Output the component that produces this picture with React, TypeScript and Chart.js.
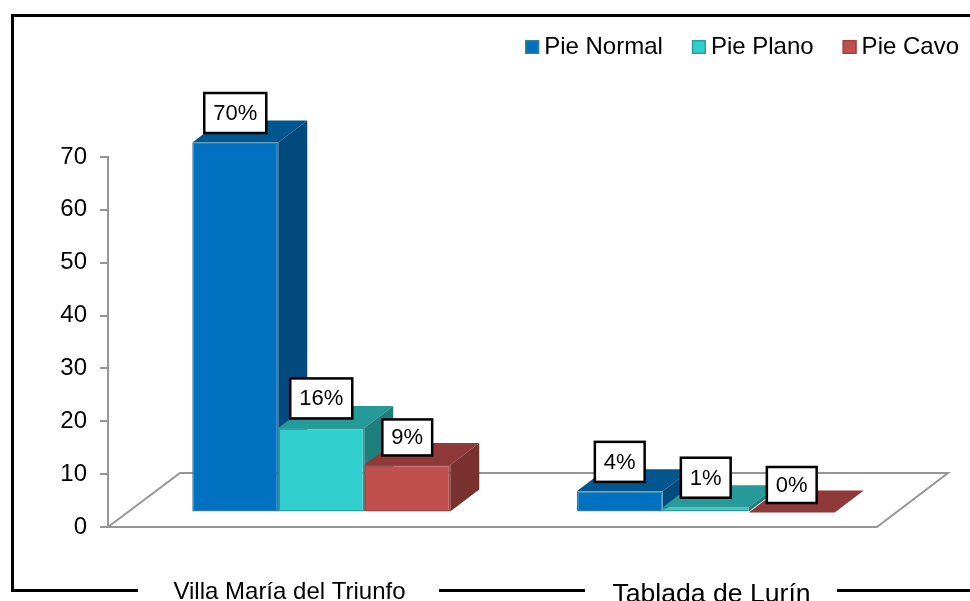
import React, { useEffect, useRef } from "react";
import { Chart, registerables } from "chart.js";

Chart.register(...registerables);

const categories = ["Villa María del Triunfo", "Tablada de Lurín"];
const pieNormal = [70, 4];
const piePlano = [16, 1];
const pieCavo = [9, 0];
const seriesNames = ["Pie Normal", "Pie Plano", "Pie Cavo"];

const FRONT = ["#0070C0", "#31CFCD", "#C0504D"];
const TOP = ["#02568F", "#259A98", "#8F3A38"];
const SIDE = ["#024A7D", "#1F7F7C", "#7A3230"];
const EDGE = ["#2F7F9A", "#2A9E9C", "#A8403E"];
const FONT = "'Liberation Sans', Arial, sans-serif";
const SHIFT = { x: 21, y: -14.5 };
const DEPTH = { x: 29, y: -22 };
const FLOOR = { x: 72, y: -54 };
const LABEL_H = [[40, 40], [40, 40], [36, 36]];
const CAT_STYLE = [
  { x: 289.5, y: 599, size: 24 },
  { x: 711.5, y: 602, size: 26.6 },
];
const FRAME = [[12, 138], [439, 585], [837, 970]];

const poly = (ctx: CanvasRenderingContext2D, pts: number[][], fill: string) => {
  ctx.beginPath();
  pts.forEach((p, i) => (i ? ctx.lineTo(p[0], p[1]) : ctx.moveTo(p[0], p[1])));
  ctx.closePath();
  ctx.fillStyle = fill;
  ctx.fill();
};

const scene = {
  id: "scene",
  beforeDatasetsDraw(chart: any) {
    const { ctx, chartArea: a } = chart;
    ctx.save();
    ctx.strokeStyle = "#969696";
    ctx.lineWidth = 2;
    ctx.beginPath();
    ctx.moveTo(a.left, a.bottom);
    ctx.lineTo(a.left + FLOOR.x, a.bottom + FLOOR.y);
    ctx.lineTo(a.right + FLOOR.x - 1, a.bottom + FLOOR.y);
    ctx.lineTo(a.right, a.bottom);
    ctx.closePath();
    ctx.stroke();
    chart.data.datasets.forEach((_: any, d: number) => {
      chart.getDatasetMeta(d).data.forEach((bar: any) => {
        const { x, y, base, width } = bar.getProps(["x", "y", "base", "width"], true);
        const l = x - width / 2 + SHIFT.x;
        const r = x + width / 2 + SHIFT.x;
        const t = y + SHIFT.y;
        const b = base + SHIFT.y;
        poly(ctx, [[l, t], [r, t], [r + DEPTH.x, t + DEPTH.y], [l + DEPTH.x, t + DEPTH.y]], TOP[d]);
        if (b - t > 0.5)
          poly(ctx, [[r, t], [r + DEPTH.x, t + DEPTH.y], [r + DEPTH.x, b + DEPTH.y], [r, b]], SIDE[d]);
      });
    });
    ctx.restore();
    ctx.save();
    ctx.translate(SHIFT.x, SHIFT.y);
  },
  afterDatasetsDraw(chart: any) {
    const { ctx } = chart;
    ctx.restore();
    ctx.save();
    ctx.font = `22px ${FONT}`;
    ctx.textAlign = "center";
    ctx.textBaseline = "middle";
    chart.data.datasets.forEach((ds: any, d: number) => {
      chart.getDatasetMeta(d).data.forEach((bar: any, i: number) => {
        const { x, y } = bar.getProps(["x", "y"], true);
        const h = LABEL_H[d][i];
        const cx = x + SHIFT.x;
        const cy = y + SHIFT.y - h / 2 - 9.5;
        const text = `${ds.data[i]}%`;
        const w = ctx.measureText(text).width + 18;
        ctx.fillStyle = "#fff";
        ctx.fillRect(cx - w / 2, cy - h / 2, w, h);
        ctx.strokeStyle = "#000";
        ctx.lineWidth = 2.5;
        ctx.strokeRect(cx - w / 2, cy - h / 2, w, h);
        ctx.fillStyle = "#000";
        ctx.fillText(text, cx, cy + 1);
      });
    });
    ctx.restore();
  },
  afterDraw(chart: any) {
    const { ctx } = chart;
    ctx.save();
    ctx.strokeStyle = "#000";
    ctx.lineWidth = 3;
    ctx.beginPath();
    ctx.moveTo(970, 15.5);
    ctx.lineTo(12.5, 15.5);
    ctx.lineTo(12.5, 592);
    FRAME.forEach((s) => {
      ctx.moveTo(s[0], 590.5);
      ctx.lineTo(s[1], 590.5);
    });
    ctx.stroke();
    ctx.fillStyle = "#000";
    ctx.textAlign = "center";
    ctx.textBaseline = "alphabetic";
    categories.forEach((c, i) => {
      ctx.font = `${CAT_STYLE[i].size}px ${FONT}`;
      ctx.fillText(c, CAT_STYLE[i].x, CAT_STYLE[i].y);
    });
    chart.legend.legendHitBoxes.forEach((h: any, i: number) => {
      const cy = h.top + h.height / 2;
      ctx.fillStyle = FRONT[i];
      ctx.fillRect(h.left, cy - 7, 14, 14);
      ctx.strokeStyle = EDGE[i];
      ctx.lineWidth = 1.5;
      ctx.strokeRect(h.left + 0.75, cy - 6.25, 12.5, 12.5);
    });
    ctx.restore();
  },
};

export default function App() {
  const ref = useRef<HTMLCanvasElement | null>(null);
  useEffect(() => {
    document.body.style.margin = "0";
    const chart = new Chart(ref.current as HTMLCanvasElement, {
      type: "bar",
      data: {
        labels: categories,
        datasets: [pieNormal, piePlano, pieCavo].map((data, d) => ({
          label: seriesNames[d],
          data,
          backgroundColor: FRONT[d],
          borderColor: EDGE[d],
          borderWidth: 1.5,
          borderSkipped: false,
          barPercentage: 1,
          categoryPercentage: 0.671,
          clip: false as any,
        })),
      },
      options: {
        responsive: false,
        animation: false,
        layout: { padding: { top: 6, bottom: 74, left: 0, right: 0 } },
        plugins: {
          tooltip: { enabled: false },
          title: { display: false },
          legend: {
            position: "top",
            align: "end",
            labels: {
              boxWidth: 7,
              padding: 29,
              color: "#000",
              font: { family: FONT, size: 24 },
              generateLabels: () =>
                seriesNames.map((text) => ({
                  text,
                  fillStyle: "rgba(0,0,0,0)",
                  strokeStyle: "rgba(0,0,0,0)",
                  lineWidth: 0,
                })),
            },
          },
        },
        scales: {
          x: { display: false, type: "category", offset: true },
          y: {
            min: 0,
            max: 70,
            position: "left",
            afterFit: (s: any) => { s.width = 108; },
            border: { color: "#969696", width: 2 },
            grid: { drawOnChartArea: false, drawTicks: true, tickLength: 8, color: "#969696", lineWidth: 2 },
            ticks: { stepSize: 10, padding: 13, color: "#000", font: { family: FONT, size: 24 } },
          },
          yPad: {
            position: "right",
            afterFit: (s: any) => { s.width = 111; },
            border: { display: false },
            grid: { display: false },
            ticks: { display: false },
          },
          xPad: {
            type: "linear",
            position: "top",
            afterFit: (s: any) => { s.height = 88; },
            border: { display: false },
            grid: { display: false },
            ticks: { display: false },
          },
        },
      } as any,
      plugins: [scene],
    });
    return () => chart.destroy();
  }, []);
  return (
    <div style={{ width: 970, height: 601, overflow: "hidden", background: "#fff" }}>
      <canvas ref={ref} width={988} height={601} style={{ display: "block" }} />
    </div>
  );
}
